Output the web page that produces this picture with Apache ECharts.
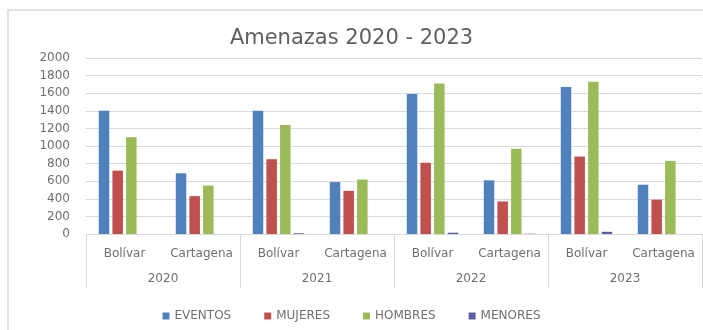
<!DOCTYPE html>
<html><head><meta charset="utf-8">
<script src="https://cdn.jsdelivr.net/npm/echarts@6/dist/echarts.min.js"></script>
<style>html,body{margin:0;padding:0;background:#fff}#c{width:703px;height:330px}</style>
</head><body><div id="c"></div>
<script>
const places = ["Bolívar","Cartagena","Bolívar","Cartagena","Bolívar","Cartagena","Bolívar","Cartagena"];
const years = ["2020","2021","2022","2023"];
const eventos = [1400, 690, 1400, 590, 1590, 610, 1670, 560];
const mujeres = [720, 430, 850, 490, 810, 370, 880, 390];
const hombres = [1100, 550, 1240, 620, 1710, 970, 1730, 830];
const menores = [0, 0, 8, 0, 15, 3, 25, 0];
const yTicks = [0,200,400,600,800,1000,1200,1400,1600,1800,2000];

const font = "DejaVu Sans";
const txt = "#6f6f6f";
const chart = echarts.init(document.getElementById('c'));
const mk = (name, data, color) => ({name, type:'bar', data, itemStyle:{color}, barWidth:10.5, barGap:'30%', xAxisIndex:0});
chart.setOption({
  animation:false,
  textStyle:{fontFamily:font},
  graphic:[{type:'rect', shape:{x:8,y:10,width:710,height:340}, style:{fill:'none', stroke:'#d9d9d9', lineWidth:1.5}, silent:true}],
  title:{text:'Amenazas 2020 - 2023', left:'center', top:23, textStyle:{fontFamily:font, fontSize:21, fontWeight:'normal', color:'#5f5f5f'}},
  legend:{bottom:3, left:'center', itemWidth:7, itemHeight:7, itemGap:33, icon:'rect',
    textStyle:{fontFamily:font, fontSize:12, color:txt}},
  grid:{left:86, right:1, top:58, bottom:96, containLabel:false},
  xAxis:[
    {type:'category', data:places, position:'bottom',
     axisLine:{lineStyle:{color:'#d9d9d9'}}, axisTick:{show:false},
     axisLabel:{color:txt, fontSize:12, fontFamily:font, margin:14, interval:0}},
    {type:'category', data:years, position:'bottom', offset:54,
     axisLine:{show:false}, axisTick:{show:true, inside:true, length:54, lineStyle:{color:'#d9d9d9'}},
     axisLabel:{inside:true, color:txt, fontSize:12, fontFamily:font, margin:3, interval:0}}
  ],
  yAxis:{type:'value', min:0, max:2000, interval:200,
    axisLine:{show:false}, axisTick:{show:false},
    axisLabel:{color:txt, fontSize:12, fontFamily:font, margin:16, formatter: v => String(v)},
    splitLine:{lineStyle:{color:'#d9d9d9'}}},
  series:[
    mk('EVENTOS', eventos, '#4F81BD'),
    mk('MUJERES', mujeres, '#C0504D'),
    mk('HOMBRES', hombres, '#9BBB59'),
    mk('MENORES', menores, '#5B5EA6')
  ]
});
</script></body></html>
